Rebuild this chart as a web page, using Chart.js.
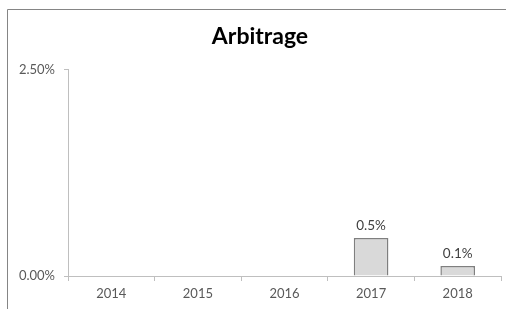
<!DOCTYPE html>
<html>
<head>
<meta charset="utf-8">
<script src="https://cdn.jsdelivr.net/npm/chart.js@4.4.1/dist/chart.umd.min.js"></script>
<style>
  html, body { margin: 0; padding: 0; background: #fff; }
  #wrap { width: 506px; height: 309px; position: relative; }
</style>
</head>
<body>
<div id="wrap"><canvas id="chart" width="506" height="309"></canvas></div>
<script>
const years = ['2014', '2015', '2016', '2017', '2018'];
const arbitrage = [null, null, null, 0.0046, 0.0012];
const yTicks = [0, 0.025];

// frame line at top and left (the rest is cut off in the picture)
const framePlugin = {
    id: 'frame',
    beforeDraw(chart) {
        const c = chart.ctx;
        c.save();
        c.strokeStyle = '#858585';
        c.lineWidth = 1;
        c.beginPath();
        c.moveTo(7.5, 320);
        c.lineTo(7.5, 9.5);
        c.lineTo(520, 9.5);
        c.stroke();
        c.restore();
    }
};

// value labels above bars
const barLabels = {
    id: 'barLabels',
    afterDatasetsDraw(chart) {
        const c = chart.ctx;
        const meta = chart.getDatasetMeta(0);
        c.save();
        c.font = '13.5px Lato';
        c.fillStyle = '#404040';
        c.textAlign = 'center';
        c.textBaseline = 'bottom';
        meta.data.forEach((bar, i) => {
            const v = arbitrage[i];
            if (v === null) return;
            c.fillText((v * 100).toFixed(1) + '%', bar.x, bar.y - 6);
        });
        c.restore();
    }
};

new Chart(document.getElementById('chart').getContext('2d'), {
    type: 'bar',
    data: {
        labels: years,
        datasets: [{
            label: 'Arbitrage',
            data: arbitrage,
            backgroundColor: '#d9d9d9',
            borderColor: '#7f7f7f',
            borderWidth: 1.5,
            barPercentage: 0.4,
            categoryPercentage: 1
        }]
    },
    options: {
        responsive: false,
        animation: false,
        layout: { padding: { top: 0, left: 19, right: 5, bottom: 0 } },
        plugins: {
            legend: { display: false },
            tooltip: { enabled: false },
            title: {
                display: true,
                text: 'Arbitrage',
                color: '#000',
                font: { family: 'Lato', size: 23, weight: 'bold', lineHeight: 1.2 },
                padding: { top: 23, bottom: 19 }
            }
        },
        scales: {
            x: {
                grid: {
                    offset: true,
                    drawOnChartArea: false,
                    drawTicks: true,
                    tickLength: 5,
                    color: '#bfbfbf'
                },
                border: { color: '#bfbfbf', width: 1 },
                ticks: {
                    color: '#595959',
                    font: { family: 'Lato', size: 13 },
                    padding: 5,
                    maxRotation: 0
                },
                afterFit(scale) { scale.height = 33; }
            },
            y: {
                min: 0,
                max: 0.025,
                afterBuildTicks(scale) {
                    scale.ticks = yTicks.map(v => ({ value: v }));
                },
                grid: {
                    drawOnChartArea: false,
                    drawTicks: true,
                    tickLength: 4,
                    color: '#bfbfbf'
                },
                border: { color: '#bfbfbf', width: 1 },
                ticks: {
                    color: '#595959',
                    font: { family: 'Lato', size: 13 },
                    padding: 9,
                    callback: v => (v * 100).toFixed(2) + '%'
                },
                afterFit(scale) { scale.width = 49; }
            }
        }
    },
    plugins: [framePlugin, barLabels]
});
</script>
</body>
</html>
